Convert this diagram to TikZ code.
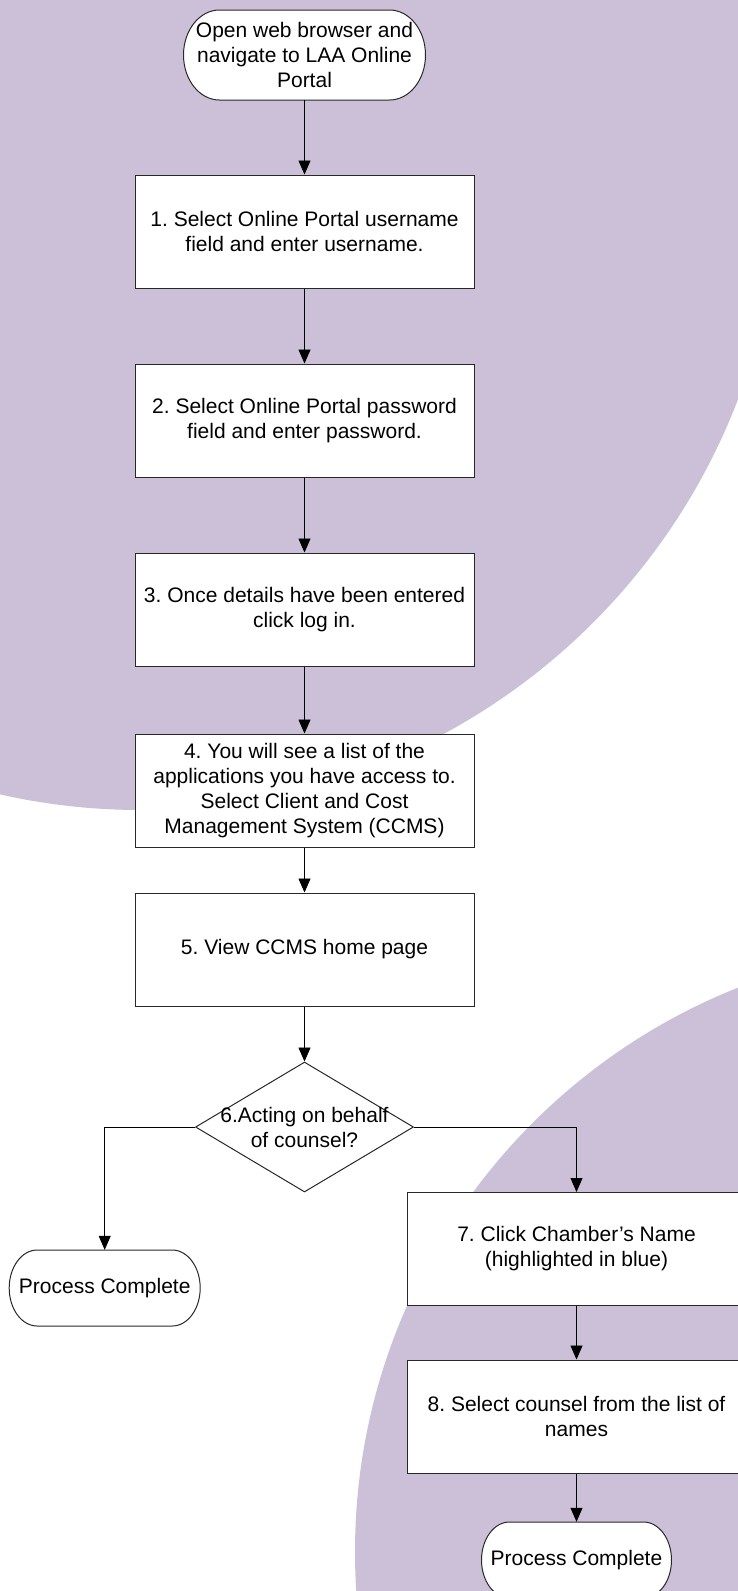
\documentclass[tikz,border=0pt]{standalone}
\usepackage{fontspec}
\setmainfont{Liberation Sans}
\usetikzlibrary{arrows.meta,shapes.geometric}
\definecolor{bgpurple}{RGB}{204,191,216}
\definecolor{edgecol}{RGB}{40,40,40}
\tikzset{
  txt/.style={align=center, inner sep=0pt, font=\fontsize{21}{25}\selectfont\frenchspacing},
  procbox/.style={txt, draw=edgecol, line width=1pt, fill=white, minimum width=339pt, minimum height=113pt},
  termline/.style={draw=edgecol, line width=1pt, fill=white},
  arr/.style={draw=black, line width=0.8pt, -{Triangle[length=14pt,width=12pt]}},
  decision/.style={draw=edgecol, line width=1pt, fill=white, diamond, minimum width=218pt, minimum height=130pt, inner sep=0pt},
}
% name, x, y, half width, half height, end radius, text
\newcommand\termnode[7]{%
  \draw[termline] ({#2-#4+#6},{#3+#5}) -- ({#2+#4-#6},{#3+#5})
    arc[start angle=90,end angle=-90,x radius=#6pt,y radius=#5pt]
    -- ({#2-#4+#6},{#3-#5})
    arc[start angle=270,end angle=90,x radius=#6pt,y radius=#5pt] -- cycle;
  \node[txt, minimum width={2*#4pt}, minimum height={2*#5pt}] (#1) at (#2,#3) {#7};
}
\frenchspacing
\begin{document}
\begin{tikzpicture}[x=1pt,y=1pt]
\useasboundingbox (0,0) rectangle (738,-1591);
\begin{scope}
\clip (0,0) rectangle (738,-1591);
\fill[white] (0,0) rectangle (738,-1591);
\fill[bgpurple] (141,-171) circle[radius=639pt];
\fill[bgpurple] (962,-1552) circle[radius=607pt];

\termnode{start}{304.5}{-55}{121}{45}{36}{Open web browser and\\navigate to LAA Online\\Portal}
\node[procbox] (b1) at (304.5,-231.5) {1. Select Online Portal username\\field and enter username.};
\node[procbox] (b2) at (304.5,-420.5) {2. Select Online Portal password\\field and enter password.};
\node[procbox] (b3) at (304.5,-609.5) {3. Once details have been entered\\click log in.};
\node[procbox] (b4) at (304.5,-790.5) {4. You will see a list of the\\applications you have access to.\\Select Client and Cost\\Management System (CCMS)};
\node[procbox] (b5) at (304.5,-949.5) {5. View CCMS home page};
\node[decision] (d) at (304.5,-1127) {};
\node[txt] (dt) at (d.center) {6.Acting on behalf\\of counsel?};
\termnode{endL}{104.7}{-1288}{95.5}{38}{28}{Process Complete}
\node[procbox] (b7) at (576.5,-1249) {7. Click Chamber’s Name\\(highlighted in blue)};
\node[procbox] (b8) at (576.5,-1416.5) {8. Select counsel from the list of\\names};
\termnode{endR}{576.5}{-1560}{95}{38}{28}{Process Complete}

\draw[arr] (start.south) -- (b1.north);
\draw[arr] (b1.south) -- (b2.north);
\draw[arr] (b2.south) -- (b3.north);
\draw[arr] (b3.south) -- (b4.north);
\draw[arr] (b4.south) -- (b5.north);
\draw[arr] (b5.south) -- (d.north);
\draw[arr] (d.west) -| (endL.north);
\draw[arr] (d.east) -| (b7.north);
\draw[arr] (b7.south) -- (b8.north);
\draw[arr] (b8.south) -- (endR.north);
\end{scope}
\end{tikzpicture}
\end{document}
